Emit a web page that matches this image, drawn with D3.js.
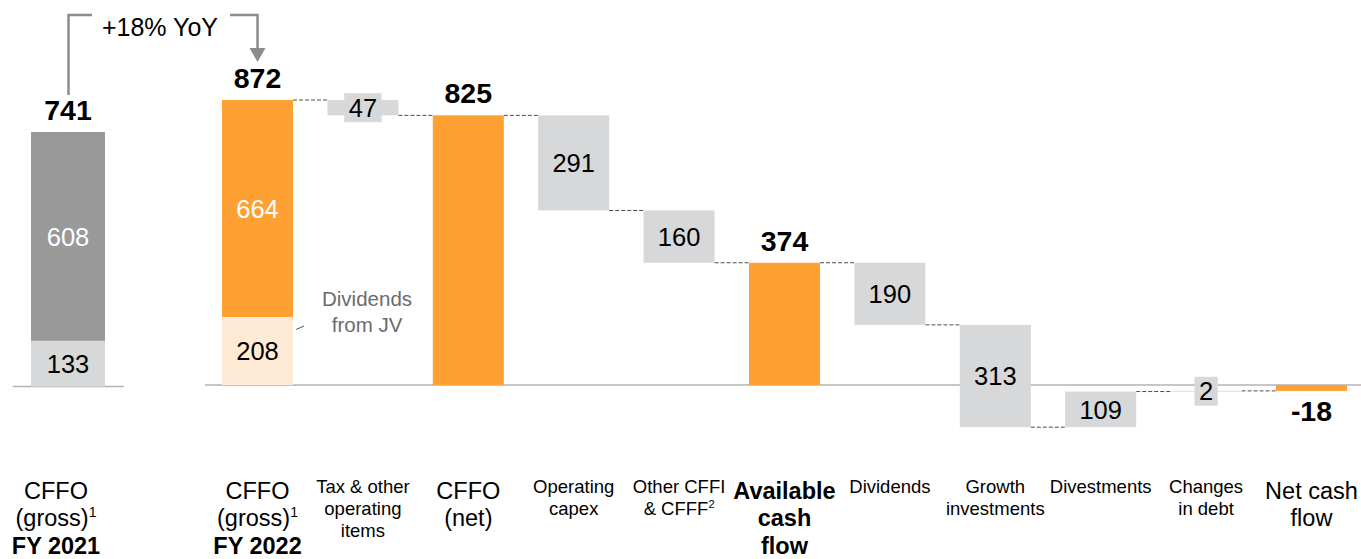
<!DOCTYPE html>
<html>
<head>
<meta charset="utf-8">
<script src="https://cdn.jsdelivr.net/npm/d3@7/dist/d3.min.js"></script>
<style>
  html, body { margin: 0; padding: 0; background: #fff; }
  svg { display: block; font-family: "Liberation Sans", Arial, sans-serif; }
</style>
</head>
<body>
<svg id="chart" width="1361" height="559"></svg>
<script>
// ---- data ----------------------------------------------------------------
// Prior-year gross CFFO, split into JV dividends (base) and the rest
const fy2021Parts = [133, 608];
// Current-year gross CFFO, split the same way
const fy2022Parts = [208, 664];

// Waterfall steps for FY 2022 (totals are absolute levels, deltas are changes)
const stepCategories = [
  "CFFO (gross) FY 2022", "Tax & other operating items", "CFFO (net)",
  "Operating capex", "Other CFFI & CFFF", "Available cash flow",
  "Dividends", "Growth investments", "Divestments", "Changes in debt",
  "Net cash flow"
];
const stepValues = [872, -47, 825, -291, -160, 374, -190, -313, 109, 2, -18];
const stepKinds  = ["total", "delta", "total", "delta", "delta", "total",
                    "delta", "delta", "delta", "delta", "total"];

// Axis captions, one entry per line ("^" marks a superscript note)
const stepLabelLines = [
  ["CFFO", "(gross)^1", "FY 2022"],
  ["Tax & other", "operating", "items"],
  ["CFFO", "(net)"],
  ["Operating", "capex"],
  ["Other CFFI", "& CFFF^2"],
  ["Available", "cash", "flow"],
  ["Dividends"],
  ["Growth", "investments"],
  ["Divestments"],
  ["Changes", "in debt"],
  ["Net cash", "flow"]
];
const fy2021LabelLines = ["CFFO", "(gross)^1", "FY 2021"];
const yoyText = "+18% YoY";
const jvNoteLines = ["Dividends", "from JV"];

// ---- styling -------------------------------------------------------------
const ORANGE = "#FFA033";
const CREAM = "#FFEBD5";
const DARK_GREY = "#999999";
const LIGHT_GREY = "#D7D8DA";
const AXIS_GREY = "#B3B3B3";
const BRACKET_GREY = "#8C8C8C";
const VALUE_SIZE = 25.5;
const TOTAL_SIZE = 28.5;

const svg = d3.select("#chart");

// ---- scales --------------------------------------------------------------
const x = d3.scaleBand()
  .domain(d3.range(stepCategories.length))
  .range([222, 1347])
  .paddingInner(0.326)
  .paddingOuter(0);

const y = d3.scaleLinear().domain([0, 872]).range([385, 100]);

// the prior-year bar sits in its own small panel with its own scale
const x1 = d3.scaleBand().domain([0]).range([31, 105]).padding(0);
const y1 = d3.scaleLinear().domain([0, 741]).range([386.5, 132]);

// ---- waterfall geometry ----------------------------------------------------
let level = 0;
const steps = stepValues.map((v, i) => {
  let start, end;
  if (stepKinds[i] === "total") { start = 0; end = v; }
  else { start = level; end = level + v; }
  level = end;
  return { i, value: v, kind: stepKinds[i], start, end,
           lo: Math.min(start, end), hi: Math.max(start, end) };
});

// ---- baselines -----------------------------------------------------------
svg.append("line")
  .attr("x1", 12.7).attr("x2", 123.7)
  .attr("y1", y1(0)).attr("y2", y1(0))
  .attr("stroke", AXIS_GREY).attr("stroke-width", 1.5);

svg.append("line")
  .attr("x1", 205).attr("x2", 1361)
  .attr("y1", y(0)).attr("y2", y(0))
  .attr("stroke", AXIS_GREY).attr("stroke-width", 1.5);

// ---- dashed connectors between consecutive steps ---------------------------
const conn = svg.append("g");
steps.slice(0, -1).forEach(s => {
  conn.append("line")
    .attr("x1", x(s.i) + x.bandwidth())
    .attr("x2", x(s.i + 1))
    .attr("y1", y(s.end)).attr("y2", y(s.end))
    .attr("stroke", "#4d4d4d").attr("stroke-width", 1)
    .attr("stroke-dasharray", "4,2");
});

// ---- prior-year stacked bar ------------------------------------------------
const g21 = svg.append("g");
const cum21 = d3.cumsum(fy2021Parts);
fy2021Parts.forEach((v, k) => {
  const top = cum21[k], bot = top - v;
  g21.append("rect")
    .attr("x", x1(0)).attr("width", x1.bandwidth())
    .attr("y", y1(top)).attr("height", y1(bot) - y1(top))
    .attr("fill", k === 0 ? LIGHT_GREY : DARK_GREY);
  g21.append("text")
    .attr("x", x1(0) + x1.bandwidth() / 2)
    .attr("y", (y1(top) + y1(bot)) / 2)
    .attr("dy", "0.36em")
    .attr("text-anchor", "middle")
    .attr("font-size", VALUE_SIZE)
    .attr("fill", k === 0 ? "#000" : "#fff")
    .text(v);
});
g21.append("text")
  .attr("x", x1(0) + x1.bandwidth() / 2)
  .attr("y", y1(cum21[cum21.length - 1]) - 12)
  .attr("text-anchor", "middle")
  .attr("font-size", TOTAL_SIZE).attr("font-weight", "bold")
  .text(cum21[cum21.length - 1]);

// ---- current-year bars -----------------------------------------------------
const gBars = svg.append("g");

// first step: stacked gross CFFO
const cum22 = d3.cumsum(fy2022Parts);
fy2022Parts.forEach((v, k) => {
  const top = cum22[k], bot = top - v;
  gBars.append("rect")
    .attr("x", x(0)).attr("width", x.bandwidth())
    .attr("y", y(top)).attr("height", y(bot) - y(top))
    .attr("fill", k === 0 ? CREAM : ORANGE);
  gBars.append("text")
    .attr("x", x(0) + x.bandwidth() / 2)
    .attr("y", (y(top) + y(bot)) / 2)
    .attr("dy", "0.36em")
    .attr("text-anchor", "middle")
    .attr("font-size", VALUE_SIZE)
    .attr("fill", k === 0 ? "#000" : "#fff")
    .text(v);
});

steps.slice(1).forEach(s => {
  const bx = x(s.i), bw = x.bandwidth();
  const yTop = y(s.hi), yBot = y(s.lo);
  const h = Math.max(yBot - yTop, 0.8);
  gBars.append("rect")
    .attr("x", bx).attr("width", bw)
    .attr("y", yTop).attr("height", h)
    .attr("fill", s.kind === "total" ? ORANGE : LIGHT_GREY);

  if (s.kind === "delta") {
    const cy = yTop + h / 2;
    const txt = String(Math.abs(s.value));
    if (h < 30) {
      // thin step: give the value a grey tag of its own
      const tw = txt.length * VALUE_SIZE * 0.556 + 9;
      gBars.append("rect")
        .attr("x", bx + bw / 2 - tw / 2).attr("width", tw)
        .attr("y", cy - 14.5).attr("height", 29)
        .attr("fill", LIGHT_GREY);
    }
    gBars.append("text")
      .attr("x", bx + bw / 2).attr("y", cy)
      .attr("dy", "0.36em")
      .attr("text-anchor", "middle")
      .attr("font-size", VALUE_SIZE)
      .text(txt);
  }
});

// bold totals above / below their bars
steps.filter(s => s.kind === "total").forEach(s => {
  const neg = s.end < 0;
  gBars.append("text")
    .attr("x", x(s.i) + x.bandwidth() / 2)
    .attr("y", neg ? y(s.end) + 30 : y(s.end) - 12)
    .attr("text-anchor", "middle")
    .attr("font-size", TOTAL_SIZE).attr("font-weight", "bold")
    .text(s.end);
});

// ---- JV dividends note ------------------------------------------------------
const noteX = x(0) + x.bandwidth() + 74;
svg.append("line")
  .attr("x1", x(0) + x.bandwidth() + 3).attr("y1", 329.5)
  .attr("x2", x(0) + x.bandwidth() + 11).attr("y2", 326)
  .attr("stroke", "#555").attr("stroke-width", 1);
jvNoteLines.forEach((t, k) => {
  svg.append("text")
    .attr("x", noteX).attr("y", 306 + k * 26)
    .attr("text-anchor", "middle")
    .attr("font-size", 20.5).attr("fill", "#6B6B6B")
    .text(t);
});

// ---- year-on-year bracket ---------------------------------------------------
const bx1 = x1(0) + x1.bandwidth() / 2 + 0.5;
const bx2 = x(0) + x.bandwidth() / 2;
const bTop = 15;
const yoy = svg.append("g").attr("stroke", BRACKET_GREY).attr("stroke-width", 2.5).attr("fill", "none");
yoy.append("path").attr("d", `M${bx1},95 V${bTop} H92`);
yoy.append("path").attr("d", `M230,${bTop} H${bx2} V50`);
svg.append("path")
  .attr("d", `M${bx2 - 8},48 L${bx2 + 8},48 L${bx2},62 Z`)
  .attr("fill", BRACKET_GREY);
svg.append("text")
  .attr("x", 160).attr("y", 36)
  .attr("text-anchor", "middle")
  .attr("font-size", 25)
  .text(yoyText);

// ---- category captions ------------------------------------------------------
const bigCaption = new Set([0, 2, 5, 10]);

function writeLine(textSel, line, size) {
  const parts = line.split("^");
  textSel.append("tspan").text(parts[0]);
  if (parts[1]) {
    textSel.append("tspan")
      .attr("font-size", size * 0.6)
      .attr("dy", -size * 0.4)
      .text(parts[1]);
  }
}

function caption(cx, lines, big, boldAll) {
  const size = big ? 23.5 : 18.5;
  const base = big ? 499 : 493;
  const lh = big ? 27.3 : 22;
  lines.forEach((line, k) => {
    const t = svg.append("text")
      .attr("x", cx).attr("y", base + k * lh)
      .attr("text-anchor", "middle")
      .attr("font-size", size)
      .attr("font-weight", (boldAll || line.startsWith("FY")) ? "bold" : "normal");
    writeLine(t, line, size);
  });
}

stepLabelLines.forEach((lines, i) => {
  caption(x(i) + x.bandwidth() / 2, lines, bigCaption.has(i), i === 5);
});
caption(x1(0) + x1.bandwidth() / 2 - 12, fy2021LabelLines, true, false);
</script>
</body>
</html>
